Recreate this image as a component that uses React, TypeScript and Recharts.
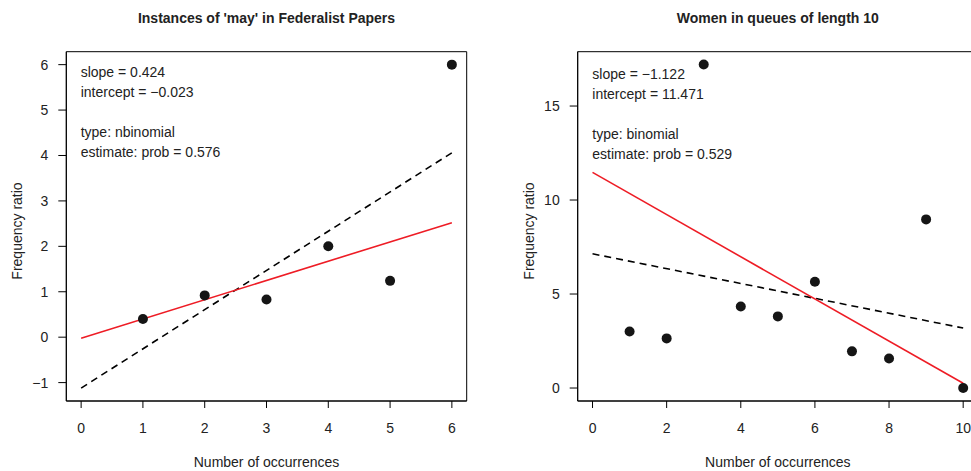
import React from 'react'
import { ComposedChart, Scatter, Line, XAxis, YAxis, ReferenceArea } from 'recharts'

// Instances of 'may' in Federalist Papers
const mayX = [1, 2, 3, 4, 5, 6]
const mayY = [0.4, 0.92, 0.83, 2.0, 1.24, 6.0]
const mayFitX = [0, 6]
const mayFitY = [-0.023, 2.521]
const mayRefY = [-1.12, 4.06]
const mayXTicks = [0, 1, 2, 3, 4, 5, 6]
const mayYTicks = [-1, 0, 1, 2, 3, 4, 5, 6]
const mayNotes = ['slope = 0.424', 'intercept = \u22120.023', '', 'type: nbinomial', 'estimate: prob = 0.576']

// Women in queues of length 10
const queueX = [1, 2, 3, 4, 5, 6, 7, 8, 9, 10]
const queueY = [3.01, 2.64, 17.21, 4.34, 3.81, 5.65, 1.95, 1.57, 8.97, 0]
const queueFitX = [0, 10]
const queueFitY = [11.471, 0.251]
const queueRefY = [7.14, 3.19]
const queueXTicks = [0, 2, 4, 6, 8, 10]
const queueYTicks = [0, 5, 10, 15]
const queueNotes = ['slope = \u22121.122', 'intercept = 11.471', '', 'type: binomial', 'estimate: prob = 0.529']

const FONT = '"Liberation Sans", Arial, Helvetica, sans-serif'
const INK = '#222'

const zip = (xs: number[], ys: number[]) => xs.map((x, i) => ({ x, y: ys[i] }))
const minus = (v: number) => String(v).replace('-', '\u2212')

const Dot = (props: any) => <circle cx={props.cx} cy={props.cy} r={5} fill="#151515" />

interface PanelProps {
  left: number
  width: number
  yAxisWidth: number
  rightMargin: number
  xDomain: [number, number]
  yDomain: [number, number]
  xTicks: number[]
  yTicks: number[]
  points: { x: number; y: number }[]
  fit: { x: number; y: number }[]
  ref0: { x: number; y: number }[]
  title: string
  notes: string[]
  noteX: number
  noteY: number
}

function Panel(p: PanelProps) {
  const plotLeft = p.left + p.yAxisWidth
  const plotRight = p.left + p.width - p.rightMargin
  const cx = (plotLeft + plotRight) / 2
  return (
    <>
      <div style={{ position: 'absolute', left: p.left, top: 0 }}>
        <ComposedChart width={p.width} height={471} margin={{ top: 51.7, right: p.rightMargin, bottom: 0, left: 0 }}>
          <XAxis
            type="number"
            dataKey="x"
            domain={p.xDomain}
            ticks={p.xTicks}
            allowDataOverflow
            height={70}
            tickSize={7}
            tickMargin={15}
            tick={{ fill: INK, fontSize: 14, fontFamily: FONT }}
            axisLine={{ stroke: '#000' }}
            tickLine={{ stroke: '#000' }}
          />
          <YAxis
            type="number"
            dataKey="y"
            domain={p.yDomain}
            ticks={p.yTicks}
            tickFormatter={minus}
            allowDataOverflow
            width={p.yAxisWidth}
            tickSize={8}
            tickMargin={10}
            tick={{ fill: INK, fontSize: 14, fontFamily: FONT }}
            axisLine={{ stroke: '#000' }}
            tickLine={{ stroke: '#000' }}
          />
          <ReferenceArea
            x1={p.xDomain[0]}
            x2={p.xDomain[1]}
            y1={p.yDomain[0]}
            y2={p.yDomain[1]}
            fill="none"
            stroke="#000"
            strokeWidth={1}
          />
          <Line
            data={p.ref0}
            dataKey="y"
            stroke="#000"
            strokeWidth={1.6}
            strokeDasharray="7 5"
            dot={false}
            isAnimationActive={false}
          />
          <Line
            data={p.fit}
            dataKey="y"
            stroke="#ee1c25"
            strokeWidth={1.6}
            dot={false}
            isAnimationActive={false}
          />
          <Scatter data={p.points} dataKey="y" shape={<Dot />} isAnimationActive={false} />
        </ComposedChart>
      </div>
      <div
        style={{
          position: 'absolute', left: cx, top: 18.3, transform: 'translate(-50%, -50%)',
          fontWeight: 'bold', fontSize: 14, color: INK, whiteSpace: 'nowrap',
        }}
      >
        {p.title}
      </div>
      <div
        style={{
          position: 'absolute', left: cx, top: 461.7, transform: 'translate(-50%, -50%)',
          fontSize: 14, color: INK, whiteSpace: 'nowrap',
        }}
      >
        Number of occurrences
      </div>
      <div
        style={{
          position: 'absolute', left: plotLeft - 49, top: 230.8,
          transform: 'translate(-50%, -50%) rotate(-90deg)',
          fontSize: 14, color: INK, whiteSpace: 'nowrap',
        }}
      >
        Frequency ratio
      </div>
      <div style={{ position: 'absolute', left: p.noteX, top: p.noteY, fontSize: 14, color: INK, lineHeight: '20px', whiteSpace: 'pre' }}>
        {p.notes.map((n, i) => (
          <div key={i}>{n || ' '}</div>
        ))}
      </div>
    </>
  )
}

export default function App() {
  return (
    <div
      style={{
        position: 'fixed', left: 0, top: 0, width: 971, height: 471,
        overflow: 'hidden', background: '#fff', fontFamily: FONT,
      }}
    >
      <Panel
        left={0}
        width={480}
        yAxisWidth={66.3}
        rightMargin={13.3}
        xDomain={[-0.24, 6.24]}
        yDomain={[-1.405, 6.285]}
        xTicks={mayXTicks}
        yTicks={mayYTicks}
        points={zip(mayX, mayY)}
        fit={zip(mayFitX, mayFitY)}
        ref0={zip(mayFitX, mayRefY)}
        title="Instances of 'may' in Federalist Papers"
        notes={mayNotes}
        noteX={80.7}
        noteY={62}
      />
      <Panel
        left={500}
        width={490}
        yAxisWidth={77.7}
        rightMargin={12}
        xDomain={[-0.4, 10.4]}
        yDomain={[-0.69, 17.89]}
        xTicks={queueXTicks}
        yTicks={queueYTicks}
        points={zip(queueX, queueY)}
        fit={zip(queueFitX, queueFitY)}
        ref0={zip(queueFitX, queueRefY)}
        title="Women in queues of length 10"
        notes={queueNotes}
        noteX={592.3}
        noteY={64}
      />
    </div>
  )
}
